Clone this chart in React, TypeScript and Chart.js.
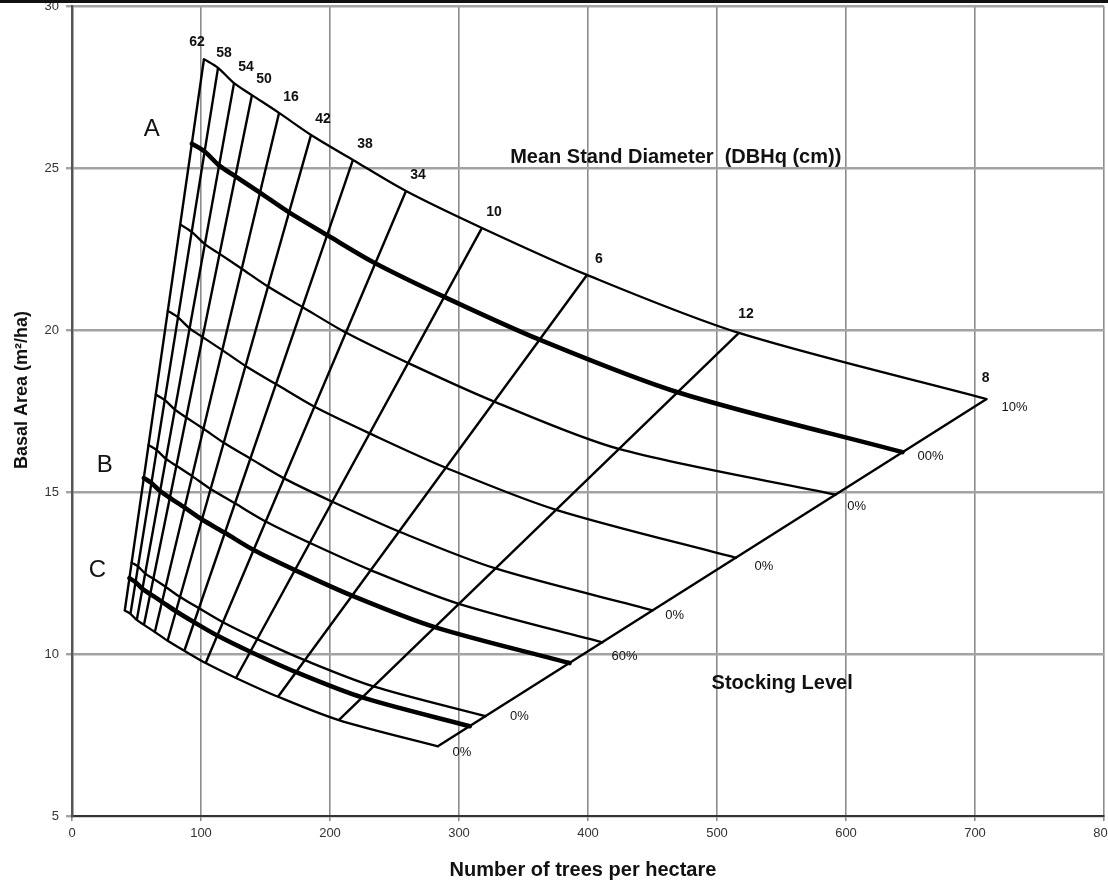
import React, { useEffect, useRef } from "react";
import { Chart, registerables } from "chart.js";

Chart.register(...registerables);

// Mean stand diameter lines (labels as printed on the chart, top boundary order)
const diameterLabels = ["62", "58", "54", "50", "16", "42", "38", "34", "10", "6", "12", "8"];

// Stocking curves: trees per hectare (N) and basal area (BA) at each diameter line
const s110N = [102.3, 113.2, 125.6, 139.5, 160.5, 185.3, 217.8, 258.9, 317.8, 399.2, 517.0, 709.0];
const s110BA = [28.36, 28.09, 27.62, 27.25, 26.7, 26.02, 25.25, 24.29, 23.15, 21.7, 19.91, 17.87];
const s100N = [92.9, 102.8, 114.0, 126.7, 145.7, 168.3, 197.8, 235.1, 288.6, 362.5, 469.4, 643.8];
const s100BA = [25.75, 25.51, 25.08, 24.74, 24.24, 23.63, 22.93, 22.06, 21.02, 19.7, 18.08, 16.23];
const s90N = [83.9, 92.8, 103.0, 114.4, 131.6, 151.9, 178.6, 212.3, 260.6, 327.3, 423.9, 592.0];
const s90BA = [23.26, 23.03, 22.65, 22.35, 21.89, 21.34, 20.71, 19.92, 18.98, 17.79, 16.33, 14.92];
const s80N = [74.3, 82.2, 91.2, 101.3, 116.5, 134.5, 158.1, 188.0, 230.7, 289.8, 375.3, 514.7];
const s80BA = [20.59, 20.39, 20.05, 19.78, 19.38, 18.89, 18.33, 17.63, 16.81, 15.75, 14.45, 12.97];
const s70N = [65.0, 71.9, 79.8, 88.6, 101.9, 117.7, 138.3, 164.4, 201.8, 253.5, 328.3, 450.2];
const s70BA = [18.01, 17.84, 17.54, 17.3, 16.95, 16.52, 16.03, 15.42, 14.7, 13.78, 12.64, 11.35];
const s60N = [59.3, 65.7, 72.9, 80.9, 93.1, 107.5, 126.3, 150.2, 184.3, 231.5, 299.9, 411.2];
const s60BA = [16.45, 16.29, 16.02, 15.81, 15.49, 15.09, 14.65, 14.09, 13.43, 12.59, 11.55, 10.36];
const sBN = [55.7, 61.6, 68.3, 75.9, 87.3, 100.8, 118.5, 140.8, 172.9, 217.2, 281.2, 385.7];
const sBBA = [15.43, 15.28, 15.03, 14.82, 14.52, 14.15, 13.74, 13.21, 12.59, 11.8, 10.83, 9.72];
const s50N = [46.2, 51.2, 56.8, 63.1, 72.6, 83.8, 98.5, 117.0, 143.7, 180.4, 233.7, 320.5];
const s50BA = [12.82, 12.7, 12.48, 12.32, 12.07, 11.76, 11.41, 10.98, 10.46, 9.81, 9.0, 8.08];
const sCN = [44.5, 49.2, 54.6, 60.7, 69.8, 80.6, 94.7, 112.6, 138.2, 173.7, 224.9, 308.4];
const sCBA = [12.34, 12.22, 12.01, 11.85, 11.61, 11.32, 10.98, 10.57, 10.07, 9.44, 8.66, 7.77];
const s40N = [40.9, 45.3, 50.2, 55.8, 64.2, 74.1, 87.1, 103.6, 127.1, 159.7, 206.8, 283.6];
const s40BA = [11.34, 11.24, 11.05, 10.9, 10.68, 10.41, 10.1, 9.72, 9.26, 8.68, 7.96, 7.15];

// Labels printed at the right end of the stocking curves ("" = none)
const stockingLabels = ["10%", "00%", "0%", "0%", "0%", "60%", "", "0%", "", "0%"];
const lineLetters = ["", "A", "", "", "", "", "B", "", "C", ""];

const xTicks = [0, 100, 200, 300, 400, 500, 600, 700, 800];
const yTicks = [5, 10, 15, 20, 25, 30];

const FONT = '"Liberation Sans", Arial, Helvetica, sans-serif';

const curves = [
  { n: s110N, ba: s110BA, bold: false, off: [28, 8] },
  { n: s100N, ba: s100BA, bold: true, off: [28, 4], letterOff: [-40, -14] },
  { n: s90N, ba: s90BA, bold: false, off: [21, 12] },
  { n: s80N, ba: s80BA, bold: false, off: [28, 9] },
  { n: s70N, ba: s70BA, bold: false, off: [22, 5] },
  { n: s60N, ba: s60BA, bold: false, off: [22, 14] },
  { n: sBN, ba: sBBA, bold: true, off: [0, 0], letterOff: [-39, -13] },
  { n: s50N, ba: s50BA, bold: false, off: [34, 0] },
  { n: sCN, ba: sCBA, bold: true, off: [0, 0], letterOff: [-32, -8] },
  { n: s40N, ba: s40BA, bold: false, off: [24, 6] },
];

const overlay = {
  id: "overlay",
  afterDatasetsDraw(chart: any) {
    const { ctx } = chart;
    const xs = chart.scales.x;
    const ys = chart.scales.y;
    const px = (v: number) => xs.getPixelForValue(v);
    const py = (v: number) => ys.getPixelForValue(v);
    ctx.save();
    ctx.fillStyle = "#111";
    ctx.textAlign = "center";
    ctx.textBaseline = "middle";

    // diameter labels along the top boundary
    ctx.font = `bold 14px ${FONT}`;
    diameterLabels.forEach((t, i) => {
      let d = [12, -16];
      if (i === 0) d = [-7, -17];
      else if (i === 1) d = [6, -15];
      else if (i === 10) d = [7, -19];
      else if (i === 11) d = [-1, -21];
      ctx.fillText(t, px(s110N[i]) + d[0], py(s110BA[i]) + d[1]);
    });

    // stocking labels at right ends
    ctx.font = `13px ${FONT}`;
    curves.forEach((c, k) => {
      const t = stockingLabels[k];
      if (!t) return;
      const last = c.n.length - 1;
      ctx.fillText(t, px(c.n[last]) + c.off[0], py(c.ba[last]) + c.off[1]);
    });

    // A, B, C letters
    ctx.font = `24px ${FONT}`;
    curves.forEach((c: any, k) => {
      const t = lineLetters[k];
      if (!t) return;
      ctx.fillText(t, px(c.n[0]) + c.letterOff[0], py(c.ba[0]) + c.letterOff[1]);
    });

    // annotations
    ctx.font = `bold 20px ${FONT}`;
    ctx.fillText("Mean Stand Diameter  (DBHq (cm))", px(468), py(25.31));
    ctx.fillText("Stocking Level", px(550.5), py(9.1));
    ctx.restore();
  },
  afterDraw(chart: any) {
    const { ctx, width } = chart;
    ctx.save();
    ctx.fillStyle = "#111";
    ctx.textAlign = "center";
    ctx.textBaseline = "middle";
    ctx.font = `bold 20px ${FONT}`;
    ctx.fillText("Number of trees per hectare", 583, 870);
    ctx.translate(22, 390);
    ctx.rotate(-Math.PI / 2);
    ctx.font = `bold 18px ${FONT}`;
    ctx.fillText("Basal Area (m\u00B2/ha)", 0, 0);
    ctx.restore();
    ctx.save();
    ctx.fillStyle = "#111";
    ctx.fillRect(0, 0, width, 3);
    ctx.restore();
  },
};

export default function App() {
  const ref = useRef<HTMLCanvasElement>(null);
  useEffect(() => {
    document.body.style.margin = "0";
    const canvas = ref.current;
    if (!canvas) return;

    const diameterSets = diameterLabels.map((lab, i) => ({
      label: "D" + lab + "_" + i,
      data: [
        { x: s110N[i], y: s110BA[i] },
        { x: s40N[i], y: s40BA[i] },
      ],
      borderColor: "#000",
      borderWidth: 2.4,
      pointRadius: 0,
      tension: 0,
      fill: false,
    }));

    const stockingSets = curves.map((c, k) => ({
      label: "S" + k,
      data: c.n.map((n, i) => ({ x: n, y: c.ba[i] })),
      borderColor: "#000",
      borderWidth: c.bold ? 4.6 : 2.3,
      pointRadius: 0,
      tension: 0.3,
      fill: false,
      borderCapStyle: "round" as const,
      borderJoinStyle: "round" as const,
    }));

    const chart = new Chart(canvas, {
      type: "line",
      data: { datasets: [...diameterSets, ...stockingSets] as any },
      options: {
        animation: false,
        responsive: false,
        events: [],
        layout: { padding: { top: 6, right: 4, left: 0, bottom: 0 } },
        plugins: { legend: { display: false }, tooltip: { enabled: false } },
        scales: {
          x: {
            type: "linear",
            min: xTicks[0],
            max: xTicks[xTicks.length - 1],
            afterBuildTicks: (s: any) => {
              s.ticks = xTicks.map((v) => ({ value: v }));
            },
            afterFit: (s: any) => {
              s.height = 70;
              s.paddingLeft = 0;
              s.paddingRight = 0;
            },
            ticks: {
              color: "#333",
              font: { family: FONT, size: 13 },
              padding: 5,
              maxRotation: 0,
              autoSkip: false,
            },
            grid: { color: "#8c8c8c", lineWidth: 1.6, tickLength: 5 },
            border: { color: "#333", width: 2 },
          },
          y: {
            type: "linear",
            min: yTicks[0],
            max: yTicks[yTicks.length - 1],
            afterBuildTicks: (s: any) => {
              s.ticks = yTicks.map((v) => ({ value: v }));
            },
            afterFit: (s: any) => {
              s.width = 72;
              s.paddingTop = 0;
              s.paddingBottom = 0;
            },
            ticks: {
              color: "#333",
              font: { family: FONT, size: 13 },
              padding: 7,
              autoSkip: false,
            },
            grid: { color: "#a3a3a3", lineWidth: 2.4, tickLength: 6 },
            border: { color: "#555", width: 2.5 },
          },
        },
      },
      plugins: [overlay],
    });
    return () => chart.destroy();
  }, []);

  return (
    <div style={{ width: 1108, height: 886, background: "#fff" }}>
      <canvas ref={ref} width={1108} height={886} style={{ display: "block" }} />
    </div>
  );
}
